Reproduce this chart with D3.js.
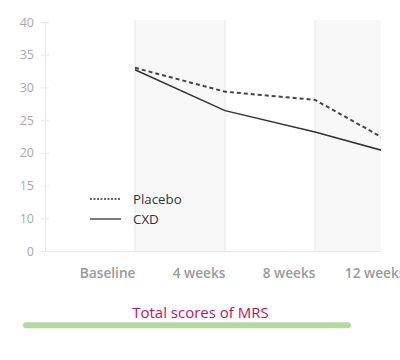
<!DOCTYPE html>
<html><head><meta charset="utf-8">
<script src="https://cdn.jsdelivr.net/npm/d3@7"></script>
<style>html,body{margin:0;padding:0;background:#fff;overflow:hidden}svg{display:block}</style>
</head><body>
<svg id="c" width="400" height="360"></svg>
<script>
const categories = ["Baseline", "4 weeks", "8 weeks", "12 weeks"];
const placebo = [33.0, 29.35, 28.1, 20.4];
const cxd = [32.7, 26.45, 23.2, 19.4];
const yTickValues = [0, 10, 15, 20, 25, 30, 35, 40];
const seriesNames = ["Placebo", "CXD"];
const title = "Total scores of MRS";

(function () {
const svg = d3.select("#c");
const mLeft = 45, mRight = 381, mTop = 22, mBottom = 251;
const font = "'Open Sans', 'Noto Sans', sans-serif";

const x = d3.scalePoint().domain(categories).range([135, 405]);
// broken axis: 0 sits where 5 would be
const step = (mBottom - mTop) / 7;
const y = d3.scaleLinear().domain([0, 10, 40]).range([mBottom, mBottom - step, mTop]);

svg.append("defs").append("clipPath").attr("id", "clip")
  .append("rect").attr("x", mLeft).attr("y", 0).attr("width", mRight - mLeft).attr("height", mBottom + 1);

const plot = svg.append("g").attr("clip-path", "url(#clip)");
// alternating shaded bands
categories.forEach((c, i) => {
  if (i % 2 === 0) {
    const x0 = x(c);
    const x1 = i < categories.length - 1 ? x(categories[i + 1]) : x0 + x.step();
    plot.append("rect").attr("x", x0).attr("y", 20)
      .attr("width", x1 - x0).attr("height", mBottom - 20)
      .attr("fill", "#f8f8f8");
  }
});
// vertical grid lines
categories.slice(0, 3).forEach(c => {
  plot.append("line").attr("x1", x(c)).attr("x2", x(c)).attr("y1", 20).attr("y2", mBottom)
    .attr("stroke", "#e6e6e6").attr("stroke-width", 1);
});

// axes
const yAxis = d3.axisLeft(y).tickValues(yTickValues).tickSize(0).tickPadding(11).tickFormat(d3.format("d"));
const gy = svg.append("g").attr("transform", `translate(${mLeft},0)`).call(yAxis);
gy.select(".domain").attr("stroke", "#e8e8e8");
gy.selectAll(".tick text").attr("fill", "#a8a8a8").attr("font-size", 12.5).attr("font-family", font);
gy.selectAll(".tick").append("line").attr("x1", -4).attr("x2", 4).attr("stroke", "#e8e8e8");

svg.append("line").attr("x1", mLeft).attr("x2", mRight).attr("y1", mBottom + 0.5).attr("y2", mBottom + 0.5)
  .attr("stroke", "#e8e8e8");

const xAxis = d3.axisBottom(x).tickSize(0).tickPadding(0);
const gx = svg.append("g").attr("transform", `translate(0,${mBottom})`).call(xAxis);
gx.select(".domain").remove();
gx.selectAll(".tick text").attr("text-anchor", "end").attr("dy", null).attr("y", 27)
  .attr("fill", "#9a9a9a").attr("font-size", 13.7).attr("font-weight", 600).attr("font-family", font);

// lines
const line = d3.line().x((d, i) => x(categories[i])).y(d => y(d));
plot.append("path").datum(placebo).attr("d", line).attr("fill", "none")
  .attr("stroke", "#444").attr("stroke-width", 2).attr("stroke-dasharray", "4,3");
plot.append("path").datum(cxd).attr("d", line).attr("fill", "none")
  .attr("stroke", "#333").attr("stroke-width", 1.5);

// legend
const lg = svg.append("g");
seriesNames.forEach((n, i) => {
  const ly = 199 + i * 20;
  lg.append("line").attr("x1", 90).attr("x2", 121).attr("y1", ly).attr("y2", ly)
    .attr("stroke", "#333").attr("stroke-width", i === 0 ? 1.5 : 1.3)
    .attr("stroke-dasharray", i === 0 ? "2,1.5" : null);
  lg.append("text").attr("x", 133).attr("y", ly + 4.5).text(n)
    .attr("fill", "#333").attr("font-size", 13.3).attr("font-weight", 500).attr("font-family", font);
});

// title
svg.append("text").attr("x", 200.5).attr("y", 318).attr("text-anchor", "middle").text(title)
  .attr("fill", "#c4105c").attr("font-size", 15).attr("font-family", font);
svg.append("line").attr("x1", 26).attr("x2", 348).attr("y1", 325.3).attr("y2", 325.3)
  .attr("stroke", "#b3db9f").attr("stroke-width", 6).attr("stroke-linecap", "round");
})();
</script>
</body></html>
